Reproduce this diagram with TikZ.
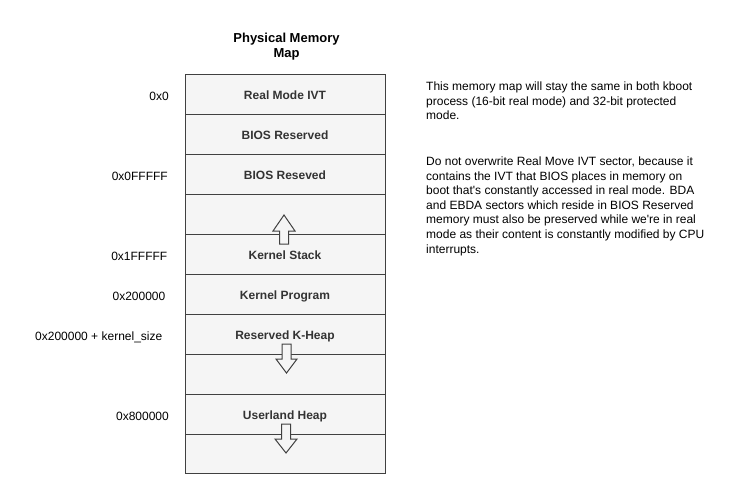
\documentclass[tikz,border=0pt]{standalone}
\usepackage{fontspec}
\setmainfont{Liberation Sans}
\definecolor{cellfill}{HTML}{F5F5F5}
\definecolor{cellline}{HTML}{404040}
\definecolor{celltext}{HTML}{333333}

\tikzset{
  cell/.style={draw=cellline, fill=cellfill, line width=1pt},
  cellname/.style={anchor=base, inner sep=0pt, text=celltext, font=\fontsize{12}{14}\selectfont\bfseries},
  addr/.style={anchor=base east, inner sep=0pt, font=\fontsize{12}{14}\selectfont},
  growarrow/.style={draw=cellline, fill=cellfill, line width=1pt, line join=miter},
  note/.style={anchor=north west, inner sep=0pt, align=left, font=\fontsize{12}{14.6}\selectfont}
}

\begin{document}
\begin{tikzpicture}[x=1pt, y=-1pt]
\useasboundingbox (0,0) rectangle (729,499);

\node[align=center, anchor=north, inner sep=0pt, font=\fontsize{13}{15}\selectfont\bfseries] (title) at (286.5,33) {Physical Memory\\Map};

% memory rows
\begin{scope}
  \draw[cell] (185,74) rectangle (385,114);
  \draw[cell] (185,114) rectangle (385,154);
  \draw[cell] (185,154) rectangle (385,194);
  \draw[cell] (185,194) rectangle (385,234);
  \draw[cell] (185,234) rectangle (385,274);
  \draw[cell] (185,274) rectangle (385,314);
  \draw[cell] (185,314) rectangle (385,354);
  \draw[cell] (185,354) rectangle (385,394);
  \draw[cell] (185,394) rectangle (385,434);
  \draw[cell] (185,434) rectangle (385,473);
\end{scope}

\node[cellname] (ivt)      at (285,99.5)  {Real Mode IVT};
\node[cellname] (biosres)  at (285,139.5) {BIOS Reserved};
\node[cellname] (biosresv) at (285,179.5) {BIOS Reseved};
\node[cellname] (kstack)   at (285,259.5) {Kernel Stack};
\node[cellname] (kprog)    at (285,299.5) {Kernel Program};
\node[cellname] (kheap)    at (285,339.5) {Reserved K-Heap};
\node[cellname] (uheap)    at (285,419.5) {Userland Heap};

% growth arrows
\draw[growarrow] (279.5,244) -- (279.5,231) -- (273,231) -- (284,215)
  -- (295,231) -- (288.5,231) -- (288.5,244) -- cycle;
\draw[growarrow] (282,344) -- (291,344) -- (291,359) -- (297,359)
  -- (286.5,373) -- (276,359) -- (282,359) -- cycle;
\draw[growarrow] (281.5,424) -- (290.5,424) -- (290.5,439) -- (297,439)
  -- (286,453) -- (275,439) -- (281.5,439) -- cycle;

% addresses
\node[addr] (a0)     at (169,100) {0x0};
\node[addr] (a0fff)  at (168,180) {0x0FFFFF};
\node[addr] (a1fff)  at (167.5,260) {0x1FFFFF};
\node[addr] (a2)     at (165.5,300) {0x200000};
\node[addr] (a2k)    at (162.5,340) {0x200000 + kernel\_size};
\node[addr] (a8)     at (169,420) {0x800000};

% notes
\node[note] (note1) at (426,81.5) {This memory map will stay the same in both kboot\\
process (16-bit real mode) and 32-bit protected\\
mode.};
\node[note] (note2) at (426,156.5) {Do not overwrite Real Move IVT sector, because it\\
contains the IVT that BIOS places in memory on\\
boot that\textquotesingle s constantly accessed in real mode. BDA\\
and EBDA sectors which reside in BIOS Reserved\\
memory must also be preserved while we\textquotesingle re in real\\
mode as their content is constantly modified by CPU\\
interrupts.};

\end{tikzpicture}
\end{document}
